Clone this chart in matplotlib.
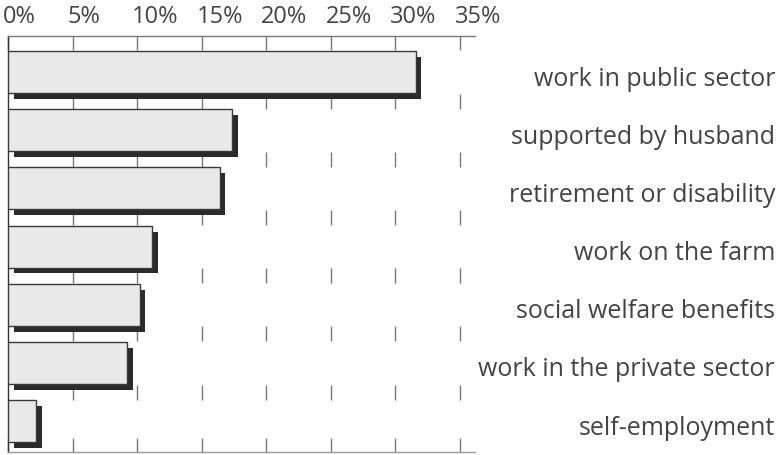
import matplotlib
matplotlib.use("Agg")
import matplotlib.pyplot as plt
import matplotlib.patheffects as pe
from matplotlib.transforms import blended_transform_factory, ScaledTranslation
import numpy as np

categories = ["work in public sector", "supported by husband", "retirement or disability",
              "work on the farm", "social welfare benefits", "work in the private sector",
              "self-employment"]
values = [31.6, 17.4, 16.4, 11.2, 10.2, 9.2, 2.2]
tick_values = [0, 5, 10, 15, 20, 25, 30, 35]
tick_labels = ["0%", "5%", "10%", "15%", "20%", "25%", "30%", "35%"]

plt.rcParams['font.family'] = ['Open Sans', 'DejaVu Sans']

fig = plt.figure(figsize=(7.8, 4.55), dpi=100)
ax = fig.add_axes([8/780, 3/455, 467/780, 416/455])

y = np.arange(len(categories))
shadow = [pe.SimplePatchShadow(offset=(4.2, -4.2), shadow_rgbFace='#2b2b2b', alpha=1.0), pe.Normal()]
bars = ax.barh(y, values, height=0.72, color='#e9e9e9', edgecolor='#3a3a3a', linewidth=1.0, zorder=3)
for b in bars:
    b.set_path_effects(shadow)

ax.set_xlim(0, 36.2)
ax.set_ylim(len(categories) - 0.47, -0.62)

# inner tick segments between rows
for yb in np.arange(0.5, len(categories) - 1, 1.0):
    ax.vlines(tick_values[1:], yb - 0.13, yb + 0.13, color='#777777', linewidth=1.0, zorder=1)

ax.set_xticks(tick_values)
ax.set_xticklabels(tick_labels)
ax.xaxis.set_ticks_position('both')
ax.xaxis.set_label_position('top')
ax.tick_params(axis='x', direction='in', length=10, width=1.0, color='#777777',
               labeltop=True, labelbottom=False, labelsize=17, labelcolor='#444444', pad=5)
ax.set_yticks([])
shift = ScaledTranslation(-5/100, 0, fig.dpi_scale_trans)
for lab in ax.get_xticklabels(which='major'):
    lab.set_horizontalalignment('left')
for t in ax.xaxis.get_major_ticks():
    t.label2.set_horizontalalignment('left')
    t.label2.set_transform(t.label2.get_transform() + shift)

ax.spines['right'].set_visible(False)
ax.spines['left'].set_color('#333333')
ax.spines['top'].set_color('#777777')
ax.spines['bottom'].set_color('#999999')
for s in ax.spines.values():
    s.set_linewidth(1.0)

tr = blended_transform_factory(fig.transFigure, ax.transData)
for i, lab in enumerate(categories):
    ax.text(775/780, i + 0.12, lab, transform=tr, ha='right', va='center',
            fontsize=18, color='#444444', clip_on=False)

fig.savefig("out.png", dpi=100, facecolor='white')
